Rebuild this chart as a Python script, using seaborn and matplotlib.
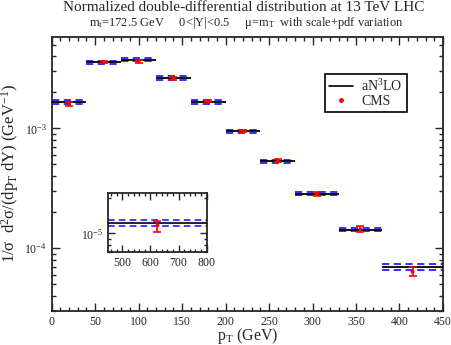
import numpy as np
import pandas as pd
import matplotlib
matplotlib.use('Agg')
import matplotlib.pyplot as plt
from matplotlib.lines import Line2D
from matplotlib.ticker import MultipleLocator, LogLocator, NullFormatter
import seaborn as sns

# pT bins (GeV) and normalized cross sections
bin_lo = [0, 40, 80, 120, 160, 200, 240, 280, 330, 380]
bin_hi = [40, 80, 120, 160, 200, 240, 280, 330, 380, 450]
an3lo = [1.66e-3, 3.57e-3, 3.76e-3, 2.64e-3, 1.66e-3, 9.44e-4, 5.31e-4, 2.84e-4, 1.43e-4, 6.9e-5]
an3lo_up = [1.71e-3, 3.67e-3, 3.87e-3, 2.72e-3, 1.71e-3, 9.70e-4, 5.46e-4, 2.92e-4, 1.48e-4, 7.3e-5]
an3lo_dn = [1.61e-3, 3.47e-3, 3.65e-3, 2.56e-3, 1.61e-3, 9.18e-4, 5.16e-4, 2.76e-4, 1.38e-4, 6.6e-5]
cms_x = [20, 60, 100, 140, 180, 220, 260, 305, 355, 415]
cms = [1.61e-3, 3.57e-3, 3.62e-3, 2.62e-3, 1.69e-3, 9.5e-4, 5.4e-4, 2.84e-4, 1.44e-4, 6.35e-5]
cms_err = [6e-5, 8e-5, 1e-4, 6e-5, 4e-5, 2.5e-5, 1.5e-5, 1.0e-5, 8e-6, 5.5e-6]

# last bin shown in the inset
ins_lo, ins_hi = [450], [800]
ins_th, ins_up, ins_dn = [1.23e-5], [1.30e-5], [1.15e-5]
ins_x, ins_cms = [625], [1.17e-5]
ins_err_dn, ins_err_up = [1.4e-6], [1.0e-6]

sns.set_style('ticks')
plt.rcParams['font.family'] = ['Liberation Serif', 'DejaVu Serif']
plt.rcParams['mathtext.default'] = 'regular'

df = pd.DataFrame({'pT': cms_x, 'val': cms, 'err': cms_err})

fig = plt.figure(figsize=(4.52, 3.45), dpi=100)
ax = fig.add_axes([0.1144, 0.0994, 0.8656, 0.7934])

blue = '#2020ff'


def draw_bins(a, lo, hi, th, up, dn, lw=1.3):
    a.hlines(th, lo, hi, color='black', lw=lw, zorder=3)
    a.hlines(up, lo, hi, color=blue, lw=lw, linestyles=(0, (4, 2.5)), zorder=2)
    a.hlines(dn, lo, hi, color=blue, lw=lw, linestyles=(0, (4, 2.5)), zorder=2)


draw_bins(ax, bin_lo, bin_hi, an3lo, an3lo_up, an3lo_dn)
ax.errorbar(df['pT'], df['val'], yerr=df['err'], fmt='none', ecolor='red',
            elinewidth=1.2, capsize=3, capthick=1.2, zorder=4)
sns.scatterplot(data=df, x='pT', y='val', ax=ax, color='red', s=8,
                edgecolor='none', zorder=5, legend=False)

ax.set_yscale('log')
ax.set_xlim(0, 450)
ax.set_ylim(3e-5, 5.8e-3)
ax.xaxis.set_major_locator(MultipleLocator(50))
ax.xaxis.set_minor_locator(MultipleLocator(10))
ax.yaxis.set_major_locator(LogLocator(base=10))
ax.yaxis.set_minor_locator(LogLocator(base=10, subs=np.arange(2, 10)))
ax.yaxis.set_minor_formatter(NullFormatter())
ax.tick_params(which='both', direction='in', top=True, right=True, labelsize=8.5, width=1)
ax.tick_params(which='major', length=6)
ax.tick_params(which='minor', length=3)
for s in ax.spines.values():
    s.set_linewidth(1.3)

ax.set_xlabel('p$_T$ (GeV)', fontsize=11.5, labelpad=-1)
ax.set_ylabel('1/$\\sigma$  d$^2\\sigma$/(dp$_T$ dY) (GeV$^{-1}$)', fontsize=12, labelpad=2)

fig.text(0.54, 0.977, 'Normalized double-differential distribution at 13 TeV LHC',
         ha='center', va='center', fontsize=11)
fig.text(0.545, 0.933, 'm$_t$=172.5 GeV     0<|Y|<0.5     $\\mu$=m$_T$  with scale+pdf variation',
         ha='center', va='center', fontsize=9)

handles = [Line2D([], [], color='black', lw=1.2),
           Line2D([], [], color='red', marker='o', ms=2.5, lw=0)]
leg = ax.legend(handles, ['aN$^3$LO', 'CMS'], loc='upper left',
                bbox_to_anchor=(0.698, 0.865), borderaxespad=0, fancybox=False,
                edgecolor='black', framealpha=1, fontsize=10, handlelength=1.7,
                handletextpad=0.6, borderpad=0.3, labelspacing=0.05)
leg.get_frame().set_linewidth(1.2)

# inset for the 450-800 GeV bin
axi = fig.add_axes([0.2396, 0.2704, 0.2177, 0.171])
draw_bins(axi, ins_lo, ins_hi, ins_th, ins_up, ins_dn, lw=1.2)
axi.errorbar(ins_x, ins_cms, yerr=[ins_err_dn, ins_err_up], fmt='none', ecolor='red',
             elinewidth=1.2, capsize=3, capthick=1.2, zorder=4)
sns.scatterplot(x=ins_x, y=ins_cms, ax=axi, color='red', s=8, edgecolor='none', zorder=5)
axi.set_yscale('log')
axi.set_xlim(450, 800)
axi.set_ylim(7e-6, 2.2e-5)
axi.xaxis.set_major_locator(MultipleLocator(100))
axi.xaxis.set_minor_locator(MultipleLocator(20))
axi.yaxis.set_major_locator(LogLocator(base=10))
axi.yaxis.set_minor_locator(LogLocator(base=10, subs=np.arange(2, 10)))
axi.yaxis.set_minor_formatter(NullFormatter())
axi.tick_params(which='both', direction='in', top=True, right=True, labelsize=8.5, width=1)
axi.tick_params(which='major', length=5)
axi.tick_params(which='minor', length=2.5)
for s in axi.spines.values():
    s.set_linewidth(1.3)

fig.savefig('out.png', dpi=100)
